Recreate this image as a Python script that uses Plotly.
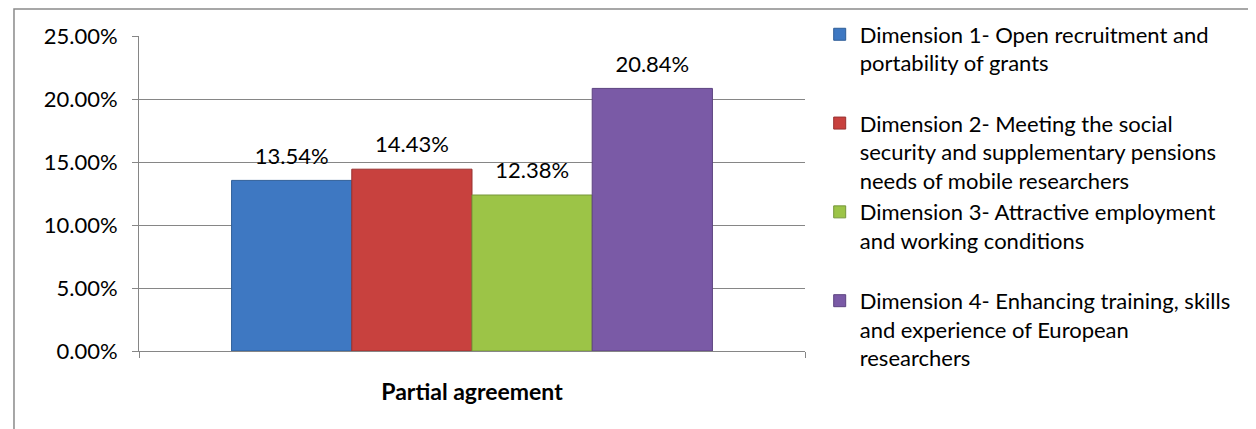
import plotly.graph_objects as go

category = ["Partial agreement"]
dimensions = [
    "Dimension 1- Open recruitment and<br>portability of grants<br> ",
    "Dimension 2- Meeting the social<br>security and supplementary pensions<br>needs of mobile researchers",
    "Dimension 3- Attractive employment<br>and working conditions<br> ",
    "Dimension 4- Enhancing training, skills<br>and experience of European<br>researchers",
]
values = [13.54, 14.43, 12.38, 20.84]
colors = ["#3E78C2", "#C8413E", "#9CC447", "#7A5AA6"]
edge_colors = ["#2F5E98", "#983230", "#76963A", "#5C4380"]

font_name = "Lato, 'Open Sans', sans-serif"
label_pad = 0.7  # extra gap (in %) between bar top and its value label

fig = go.Figure()
for i, (name, v, c, ec) in enumerate(zip(dimensions, values, colors, edge_colors)):
    fig.add_trace(go.Bar(
        x=category,
        y=[v],
        name=name,
        offsetgroup=str(i),
        marker=dict(color=c, line=dict(color=ec, width=1)),
        hoverinfo="name+y",
    ))
    # transparent spacer on top of the bar that carries the value label
    fig.add_trace(go.Bar(
        x=category,
        y=[label_pad],
        base=[v],
        offsetgroup=str(i),
        showlegend=False,
        marker=dict(color="rgba(0,0,0,0)", line=dict(width=0)),
        text=[f"{v:.2f}%"],
        textposition="outside",
        textfont=dict(family=font_name, size=22, color="#000000"),
        cliponaxis=False,
        hoverinfo="skip",
    ))

# the browser page adds an 8px body margin, so the figure is 8px smaller
fig.update_layout(
    width=1248,
    height=421,
    margin=dict(l=131, r=451, t=28, b=78),
    paper_bgcolor="white",
    plot_bgcolor="white",
    barmode="group",
    bargap=0.278,
    bargroupgap=0,
    font=dict(family=font_name, size=22, color="#000000"),
    legend=dict(
        xref="container",
        yref="container",
        x=0.6504,
        y=0.987,
        xanchor="left",
        yanchor="top",
        valign="top",
        tracegroupgap=0,
        maxheight=1000,
        font=dict(family=font_name, size=22, color="#000000"),
        bgcolor="rgba(0,0,0,0)",
    ),
    xaxis=dict(
        type="category",
        showgrid=False,
        showline=True,
        linecolor="#868686",
        linewidth=1,
        ticks="outside",
        tickson="boundaries",
        ticklen=6,
        tickcolor="#868686",
        ticklabelstandoff=20,
        tickfont=dict(family=font_name, size=23, weight="bold", color="#000000"),
        zeroline=False,
    ),
    yaxis=dict(
        range=[0, 25],
        dtick=5,
        ticksuffix="%",
        tickformat=".2f",
        showgrid=True,
        gridcolor="#868686",
        gridwidth=1,
        showline=True,
        linecolor="#868686",
        linewidth=1,
        ticks="outside",
        ticklen=6,
        tickcolor="#868686",
        ticklabelstandoff=10,
        zeroline=False,
    ),
    shapes=[dict(
        type="rect", xref="paper", yref="paper",
        x0=-0.1877, x1=2.0, y0=-1.0, y1=1.0857,
        line=dict(color="#8A8A8A", width=1.5),
        fillcolor="rgba(0,0,0,0)",
        layer="below",
    )],
)

fig.write_html("out.html")
